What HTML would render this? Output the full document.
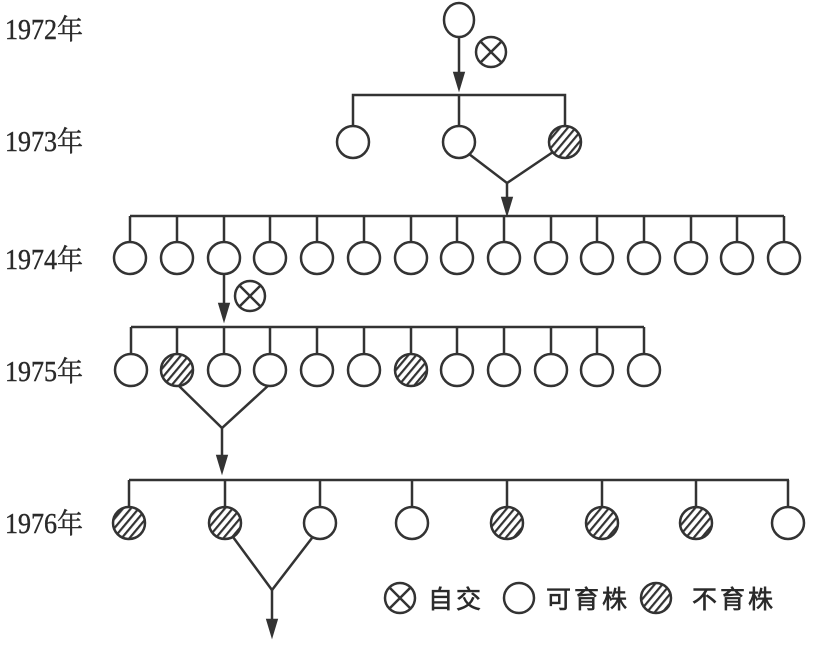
<!DOCTYPE html>
<html><head><meta charset="utf-8"><style>
html,body{margin:0;padding:0;background:#fff;}
svg{display:block;}
.y{font-family:"Liberation Serif","Noto Serif CJK SC",serif;font-size:28px;fill:#2a2a2a;stroke:#2a2a2a;stroke-width:0.4;}
.l{font-family:"Liberation Sans","Noto Sans CJK SC",sans-serif;font-size:25px;fill:#2a2a2a;letter-spacing:3px;stroke:#2a2a2a;stroke-width:0.6;}
</style></head><body>
<svg width="816" height="654" viewBox="0 0 816 654" xmlns="http://www.w3.org/2000/svg">
<defs>
<pattern id="h" patternUnits="userSpaceOnUse" width="6" height="6" patternTransform="rotate(40)">
<rect width="6" height="6" fill="#fff"/><rect width="2.2" height="6" fill="#333"/>
</pattern>
<g id="x"><circle r="15" fill="#fff" stroke="#333" stroke-width="2.5"/><path d="M-10.5,-10.5 L10.5,10.5 M10.5,-10.5 L-10.5,10.5" stroke="#333" stroke-width="2.5"/></g>
<path id="ah" d="M-4.5,-15 L4.5,-15 L0,0 Z" fill="#333"/>
</defs>
<g class="y">
<text transform="translate(5,39) scale(0.93,1)">1972年</text>
<text transform="translate(5,151) scale(0.93,1)">1973年</text>
<text transform="translate(5,269) scale(0.93,1)">1974年</text>
<text transform="translate(5,381) scale(0.93,1)">1975年</text>
<text transform="translate(5,533) scale(0.93,1)">1976年</text>
</g>
<g stroke="#333" stroke-width="2.5" fill="#fff">
<ellipse cx="459" cy="20" rx="15" ry="17"/>
<line x1="459" y1="37" x2="459" y2="80"/>
<use href="#ah" x="459" y="88"/>
<use href="#x" x="491" y="52"/>
<polyline points="353,128 353,95 565,95 565,126" fill="none"/>
<line x1="459" y1="95" x2="459" y2="126"/>
<circle cx="353" cy="142" r="16"/>
<circle cx="459" cy="142" r="16"/>
<circle cx="565" cy="142" r="16" fill="url(#h)"/>
<polyline points="469,154 507,183 553,152" fill="none"/>
<line x1="507" y1="183" x2="507" y2="205"/>
<use href="#ah" x="507" y="213"/>
<line x1="130" y1="216" x2="784" y2="216"/>
<line x1="224" y1="274" x2="224" y2="310"/>
<use href="#ah" x="224" y="319"/>
<use href="#x" x="250" y="296"/>
<line x1="131" y1="327" x2="644" y2="327"/>
<polyline points="177,384 222,428 270,384" fill="none"/>
<line x1="222" y1="428" x2="222" y2="462"/>
<use href="#ah" x="222" y="471"/>
<line x1="129" y1="480" x2="789" y2="480"/>
<polyline points="233,537 272,590 312,538" fill="none"/>
<line x1="272" y1="590" x2="272" y2="626"/>
<use href="#ah" x="272" y="635"/>
</g>
<g stroke="#333" stroke-width="2.5" fill="#fff">
<line x1="130" y1="216" x2="130" y2="242"/><circle cx="130" cy="258" r="16"/>
<line x1="177" y1="216" x2="177" y2="242"/><circle cx="177" cy="258" r="16"/>
<line x1="224" y1="216" x2="224" y2="242"/><circle cx="224" cy="258" r="16"/>
<line x1="270" y1="216" x2="270" y2="242"/><circle cx="270" cy="258" r="16"/>
<line x1="317" y1="216" x2="317" y2="242"/><circle cx="317" cy="258" r="16"/>
<line x1="364" y1="216" x2="364" y2="242"/><circle cx="364" cy="258" r="16"/>
<line x1="411" y1="216" x2="411" y2="242"/><circle cx="411" cy="258" r="16"/>
<line x1="457" y1="216" x2="457" y2="242"/><circle cx="457" cy="258" r="16"/>
<line x1="504" y1="216" x2="504" y2="242"/><circle cx="504" cy="258" r="16"/>
<line x1="551" y1="216" x2="551" y2="242"/><circle cx="551" cy="258" r="16"/>
<line x1="597" y1="216" x2="597" y2="242"/><circle cx="597" cy="258" r="16"/>
<line x1="644" y1="216" x2="644" y2="242"/><circle cx="644" cy="258" r="16"/>
<line x1="691" y1="216" x2="691" y2="242"/><circle cx="691" cy="258" r="16"/>
<line x1="737" y1="216" x2="737" y2="242"/><circle cx="737" cy="258" r="16"/>
<line x1="784" y1="216" x2="784" y2="242"/><circle cx="784" cy="258" r="16"/>
</g>
<g stroke="#333" stroke-width="2.5" fill="#fff">
<line x1="131" y1="327" x2="131" y2="354"/><circle cx="131" cy="370" r="16"/>
<line x1="177" y1="327" x2="177" y2="354"/><circle cx="177" cy="370" r="16" fill="url(#h)"/>
<line x1="224" y1="327" x2="224" y2="354"/><circle cx="224" cy="370" r="16"/>
<line x1="270" y1="327" x2="270" y2="354"/><circle cx="270" cy="370" r="16"/>
<line x1="317" y1="327" x2="317" y2="354"/><circle cx="317" cy="370" r="16"/>
<line x1="364" y1="327" x2="364" y2="354"/><circle cx="364" cy="370" r="16"/>
<line x1="411" y1="327" x2="411" y2="354"/><circle cx="411" cy="370" r="16" fill="url(#h)"/>
<line x1="457" y1="327" x2="457" y2="354"/><circle cx="457" cy="370" r="16"/>
<line x1="504" y1="327" x2="504" y2="354"/><circle cx="504" cy="370" r="16"/>
<line x1="551" y1="327" x2="551" y2="354"/><circle cx="551" cy="370" r="16"/>
<line x1="597" y1="327" x2="597" y2="354"/><circle cx="597" cy="370" r="16"/>
<line x1="644" y1="327" x2="644" y2="354"/><circle cx="644" cy="370" r="16"/>
</g>
<g stroke="#333" stroke-width="2.5" fill="#fff">
<line x1="129" y1="480" x2="129" y2="507"/><circle cx="129" cy="523" r="16" fill="url(#h)"/>
<line x1="225" y1="480" x2="225" y2="507"/><circle cx="225" cy="523" r="16" fill="url(#h)"/>
<line x1="320" y1="480" x2="320" y2="507"/><circle cx="320" cy="523" r="16"/>
<line x1="412" y1="480" x2="412" y2="507"/><circle cx="412" cy="523" r="16"/>
<line x1="507" y1="480" x2="507" y2="507"/><circle cx="507" cy="523" r="16" fill="url(#h)"/>
<line x1="602" y1="480" x2="602" y2="507"/><circle cx="602" cy="523" r="16" fill="url(#h)"/>
<line x1="696" y1="480" x2="696" y2="507"/><circle cx="696" cy="523" r="16" fill="url(#h)"/>
<line x1="788" y1="480" x2="788" y2="507"/><circle cx="788" cy="523" r="16"/>
</g>
<use href="#x" x="400" y="598"/>
<circle cx="519" cy="598" r="15" fill="#fff" stroke="#333" stroke-width="2.5"/>
<circle cx="656" cy="598" r="15" fill="url(#h)" stroke="#333" stroke-width="2.5"/>
<g class="l">
<text x="428" y="608">自交</text>
<text x="546" y="608">可育株</text>
<text x="692" y="608">不育株</text>
</g>
</svg>
</body></html>
